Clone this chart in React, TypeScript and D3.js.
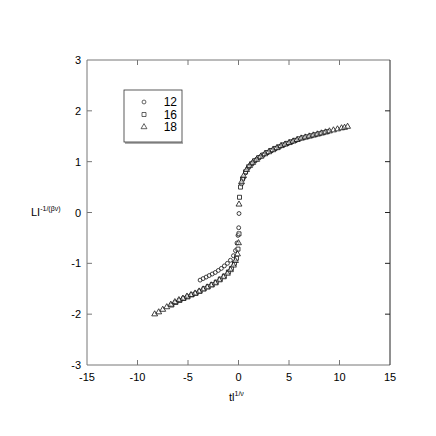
import * as d3 from "d3";
import React from "react";

// sizes
const x12 = [-3.8, -3.5, -3.2, -2.9, -2.6, -2.3, -2.0, -1.7, -1.4, -1.1, -0.8, -0.5, -0.3, -0.15, -0.05, 0.02, 0.05,
  0.3, 0.5, 0.7, 0.9, 1.2, 1.5, 1.8, 2.1, 2.5, 2.9, 3.3, 3.7, 4.1, 4.5, 4.9, 5.3, 5.7];
const y12 = [-1.33, -1.3, -1.27, -1.24, -1.21, -1.18, -1.14, -1.1, -1.05, -1.0, -0.94, -0.85, -0.75, -0.6, -0.45, -0.3, -0.02,
  0.56, 0.68, 0.78, 0.86, 0.94, 1.0, 1.05, 1.09, 1.14, 1.18, 1.22, 1.26, 1.3, 1.33, 1.36, 1.39, 1.42];

const x16 = [-6.6, -6.2, -5.8, -5.4, -5.0, -4.6, -4.2, -3.8, -3.4, -3.0, -2.6, -2.2, -1.8, -1.4, -1.0, -0.7, -0.4, -0.2, -0.05, 0.05, 0.1,
  0.2, 0.4, 0.7, 1.0, 1.3, 1.6, 2.0, 2.4, 2.8, 3.2, 3.6, 4.0, 4.4, 4.8, 5.2, 5.6, 6.0, 6.4, 6.8, 7.2, 7.6, 8.0, 8.4, 8.8];
const y16 = [-1.82, -1.77, -1.73, -1.69, -1.66, -1.62, -1.59, -1.55, -1.5, -1.46, -1.42, -1.37, -1.31, -1.25, -1.17, -1.1, -1.0, -0.9, -0.72, -0.42, 0.3,
  0.5, 0.66, 0.8, 0.9, 0.96, 1.02, 1.08, 1.13, 1.18, 1.22, 1.26, 1.29, 1.33, 1.36, 1.39, 1.42, 1.45, 1.47, 1.49, 1.51, 1.53, 1.55, 1.57, 1.59];

const x18 = [-8.3, -7.9, -7.5, -7.1, -6.7, -6.3, -5.9, -5.5, -5.1, -4.7, -4.3, -3.9, -3.5, -3.1, -2.7, -2.3, -1.9, -1.5, -1.1, -0.8, -0.5, -0.3, -0.1, 0.0, 0.05,
  0.3, 0.5, 0.8, 1.1, 1.4, 1.8, 2.2, 2.6, 3.0, 3.4, 3.8, 4.2, 4.6, 5.0, 5.4, 5.8, 6.2, 6.6, 7.0, 7.4, 7.8, 8.2, 8.6, 9.0, 9.4, 9.8, 10.2, 10.5, 10.8];
const y18 = [-2.0, -1.96, -1.91, -1.86, -1.81, -1.76, -1.72, -1.69, -1.65, -1.62, -1.59, -1.55, -1.51, -1.47, -1.43, -1.39, -1.33, -1.27, -1.2, -1.13, -1.04, -0.95, -0.82, -0.6, 0.16,
  0.6, 0.72, 0.84, 0.92, 0.98, 1.04, 1.1, 1.15, 1.19, 1.23, 1.27, 1.31, 1.34, 1.37, 1.4, 1.43, 1.46, 1.48, 1.5, 1.52, 1.54, 1.56, 1.58, 1.6, 1.62, 1.64, 1.66, 1.67, 1.69];

const seriesNames = ["12", "16", "18"];
const xTicks = [-15, -10, -5, 0, 5, 10, 15];
const yTicks = [-3, -2, -1, 0, 1, 2, 3];

const font = "'Liberation Sans', Arial, sans-serif";

const App = () => {
  const left = 87, right = 390, top = 60, bottom = 365;
  const xScale = d3.scaleLinear().domain([-15, 15]).range([left, right]);
  const yScale = d3.scaleLinear().domain([-3, 3]).range([bottom, top]);

  const shapes = [d3.symbolCircle, d3.symbolSquare, d3.symbolTriangle];
  const sizes = [12, 16, 15];
  const series = [
    { name: seriesNames[0], xs: x12, ys: y12 },
    { name: seriesNames[1], xs: x16, ys: y16 },
    { name: seriesNames[2], xs: x18, ys: y18 },
  ];
  const sym = (i) => d3.symbol().type(shapes[i]).size(sizes[i])();

  return (
    <svg width={436} height={436} style={{ position: "absolute", left: 0, top: 0, background: "#fff" }}>
      {/* frame */}
      <line x1={left} x2={left} y1={top} y2={bottom} stroke="#777" />
      <line x1={left} x2={right} y1={bottom} y2={bottom} stroke="#777" />
      <line x1={left} x2={right} y1={top} y2={top} stroke="#777" />
      <line x1={right} x2={right} y1={top} y2={bottom} stroke="#222" />

      {xTicks.map((t) => (
        <g key={"x" + t}>
          {t > -15 && t < 15 && (
            <>
              <line x1={xScale(t)} x2={xScale(t)} y1={bottom} y2={bottom - 5} stroke="#777" />
              <line x1={xScale(t)} x2={xScale(t)} y1={top} y2={top + 5} stroke="#777" />
            </>
          )}
          <text x={xScale(t)} y={381} textAnchor="middle" fontFamily={font} fontSize={11} fill="#000">{t}</text>
        </g>
      ))}
      {yTicks.map((t) => (
        <g key={"y" + t}>
          {t > -3 && t < 3 && (
            <>
              <line x1={left} x2={left + 5} y1={yScale(t)} y2={yScale(t)} stroke="#777" />
              <line x1={right} x2={right - 5} y1={yScale(t)} y2={yScale(t)} stroke="#222" />
            </>
          )}
          <text x={81} y={yScale(t) + 4} textAnchor="end" fontFamily={font} fontSize={11} fill="#000">{t}</text>
        </g>
      ))}

      {/* axis titles */}
      <text x={229} y={401} fontFamily={font} fontSize={11} fill="#000">
        tl<tspan fontSize={7} dy={-5}>1/ν</tspan>
      </text>
      <text x={31} y={216} fontFamily={font} fontSize={11} fill="#000">
        LI<tspan fontSize={7} dy={-5}>-1/(βν)</tspan>
      </text>

      {/* data */}
      {series.map((s, i) => (
        <g key={s.name}>
          {s.xs.map((v, j) => (
            <path key={j} d={sym(i)} transform={`translate(${xScale(v)},${yScale(s.ys[j])})`}
              fill="#fff" fillOpacity={0.5} stroke="#111" strokeWidth={0.8} />
          ))}
        </g>
      ))}

      {/* legend */}
      <rect x={124} y={90} width={58} height={52} fill="#fff" stroke="#333" strokeWidth={0.8} />
      <line x1={125} x2={183} y1={143} y2={143} stroke="#333" strokeWidth={0.8} />
      {series.map((s, i) => (
        <g key={"l" + s.name}>
          <path d={sym(i)} transform={`translate(144,${102 + i * 12.5})`} fill="#fff" stroke="#222" strokeWidth={0.7} />
          <text x={177} y={106 + i * 12.5} textAnchor="end" fontFamily={font} fontSize={12} fill="#000">{s.name}</text>
        </g>
      ))}
    </svg>
  );
};

export default App;
